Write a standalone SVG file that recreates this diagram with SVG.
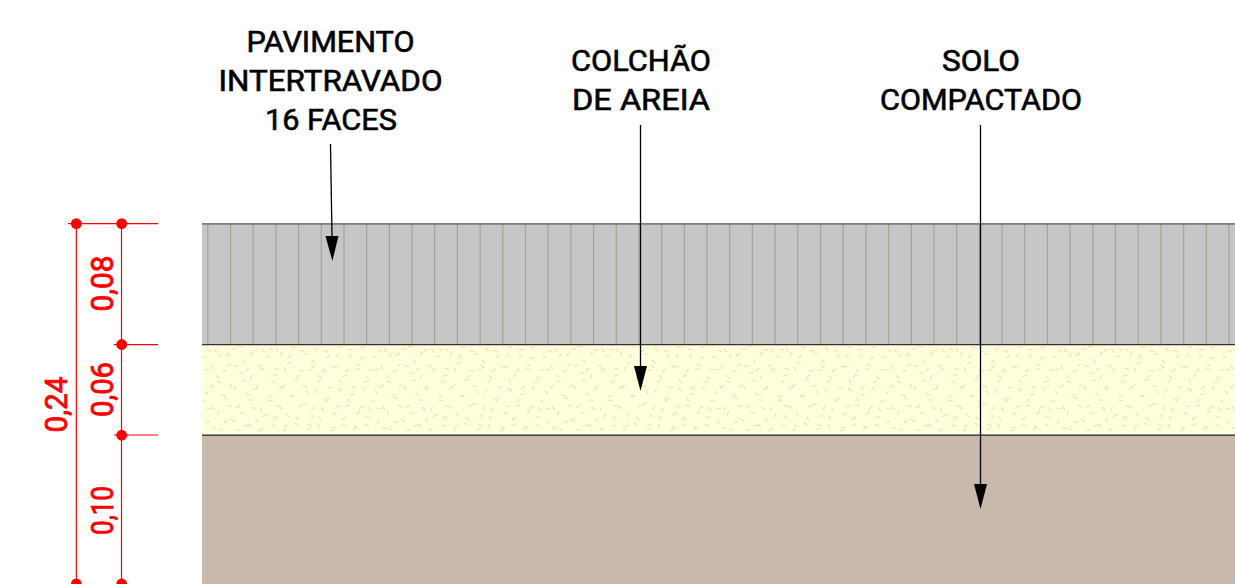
<svg xmlns="http://www.w3.org/2000/svg" width="1235" height="584" viewBox="0 0 1235 584">
<style>
.lbl{font-family:"Roboto","Liberation Sans",sans-serif;font-size:29px;font-weight:400;fill:#000;stroke:#000;stroke-width:.6}
.dim{font-family:"Roboto","Liberation Sans",sans-serif;font-size:32px;font-weight:400;fill:#f00;stroke:#f00;stroke-width:.8}
.rd{stroke:#f00;stroke-width:1.2;fill:none}
.dot{fill:#f00}
.ar{stroke:#000;stroke-width:1.3;fill:none;marker-end:url(#head)}
.edge{stroke-width:1.2;fill:none}
.joint{stroke:#a3a597;stroke-width:1.2;fill:none}
</style>
<defs>
<marker id="head" markerUnits="userSpaceOnUse" markerWidth="26" markerHeight="14" refX="1" refY="7" orient="auto" viewBox="0 0 26 14">
<path d="M0 .5L25 7L0 13.5Z" fill="#000"/>
</marker>
<pattern id="sand" patternUnits="userSpaceOnUse" x="202" y="345" width="170" height="90">
<path fill="none" stroke="#e4e4b0" stroke-width="1.1" d="M6 5l4 2M17 12l3-4M29 4l5 0M41 14l2 4M52 6l4-2M63 11l5 1M74 3l2 4M86 13l4-3M98 6l5 0M110 15l3 3M122 5l4 2M134 12l3-4M146 4l5 1M158 14l4-2M3 24l5 1M14 30l3 3M25 21l4-2M37 28l5 0M48 34l2-4M59 23l4 3M71 31l5-1M82 22l2 4M94 33l4-3M105 25l5 0M117 30l3 4M129 21l4 2M141 32l4-3M153 24l5 0M165 31l2 4M8 43l4-3M19 50l5 0M31 41l3 3M43 48l4 2M54 40l2 4M66 52l5-1M77 44l4-3M89 50l4 2M100 41l5 0M112 48l3-4M124 53l4 1M136 43l4 3M148 50l5-1M160 42l3 4M4 63l5 1M15 70l2-4M26 60l4 2M38 68l5 0M50 62l3 3M61 72l4-3M72 61l5 0M84 68l3 4M96 62l4-2M107 71l5 0M119 63l3 3M131 70l4-3M143 60l5 1M155 69l3-3M166 62l3 4M10 82l4 2M22 78l4-2M34 85l5 0M46 79l3 3M57 86l4-3M69 80l5 1M81 86l3-3M92 78l4 2M104 84l5 0M116 79l2 4M128 86l4-2M139 80l5 0M151 85l3-3M163 79l4 2"/>
</pattern>
<pattern id="sand2" href="#sand" x="265" y="376"/>
</defs>
<g id="layers">
<g id="pavimento">
<rect x="202" y="224" width="1033" height="121" fill="#c6c6c6"/>
<path class="joint" d="M207.8 224V345M230.5 224V345M253.2 224V345M275.9 224V345M298.6 224V345M321.3 224V345M344 224V345M366.7 224V345M389.4 224V345M412 224V345M434.7 224V345M457.4 224V345M480.1 224V345M502.8 224V345M525.5 224V345M548.2 224V345M570.9 224V345M593.6 224V345M616.3 224V345M639 224V345M661.7 224V345M684.4 224V345M707 224V345M729.7 224V345M752.4 224V345M775.1 224V345M797.8 224V345M820.5 224V345M843.2 224V345M865.9 224V345M888.6 224V345M911.3 224V345M934 224V345M956.7 224V345M979.4 224V345M1002 224V345M1024.7 224V345M1047.4 224V345M1070.1 224V345M1092.8 224V345M1115.5 224V345M1138.2 224V345M1160.9 224V345M1183.6 224V345M1206.3 224V345M1229 224V345"/>
</g>
<g id="areia"><rect x="202" y="345" width="1033" height="90" fill="#ffffdd"/><rect x="202" y="345" width="1033" height="90" fill="url(#sand)"/><rect x="202" y="345" width="1033" height="90" fill="url(#sand2)"/></g>
<g id="solo"><rect x="202" y="435" width="1033" height="149" fill="#c9b8ae"/></g>
<path class="edge" stroke="#555" d="M202 223.8H1235"/>
<path class="edge" stroke="#333" d="M202 344.6H1235"/>
<path class="edge" stroke="#222" d="M202 435.2H1235"/>
</g>
<g id="connectors">
<path class="ar" d="M330.5 144L332 237"/>
<path class="ar" d="M640.5 125V367"/>
<path class="ar" d="M980.5 125V485"/>
</g>
<g id="label-pavimento">
<text class="lbl" x="330.5" y="52" text-anchor="middle" textLength="168" lengthAdjust="spacingAndGlyphs">PAVIMENTO</text>
<text class="lbl" x="330.5" y="91" text-anchor="middle" textLength="224" lengthAdjust="spacingAndGlyphs">INTERTRAVADO</text>
<text class="lbl" x="331" y="130" text-anchor="middle" textLength="132" lengthAdjust="spacingAndGlyphs">16 FACES</text>
</g>
<g id="label-areia">
<text class="lbl" x="641" y="71" text-anchor="middle" textLength="140" lengthAdjust="spacingAndGlyphs">COLCHÃO</text>
<text class="lbl" x="641" y="110" text-anchor="middle" textLength="138" lengthAdjust="spacingAndGlyphs">DE AREIA</text>
</g>
<g id="label-solo">
<text class="lbl" x="981" y="71" text-anchor="middle" textLength="78" lengthAdjust="spacingAndGlyphs">SOLO</text>
<text class="lbl" x="981" y="110" text-anchor="middle" textLength="202" lengthAdjust="spacingAndGlyphs">COMPACTADO</text>
</g>
<g id="dimensions">
<path class="rd" d="M68 223.6H158M114 344.6H158M114 435H158M76.3 223.6V584M121.5 223.6V584"/>
<circle class="dot" cx="76.3" cy="223.6" r="5.4"/><circle class="dot" cx="121.7" cy="223.6" r="5.4"/>
<circle class="dot" cx="121.7" cy="344.5" r="5.4"/><circle class="dot" cx="121.7" cy="435.2" r="5.4"/>
<circle class="dot" cx="76.3" cy="584" r="5.4"/><circle class="dot" cx="121.7" cy="584" r="5.4"/>
<text class="dim" transform="translate(112.5 283.5) rotate(-90)" text-anchor="middle" textLength="56" lengthAdjust="spacingAndGlyphs">0,08</text>
<text class="dim" transform="translate(112.5 389.5) rotate(-90)" text-anchor="middle" textLength="55" lengthAdjust="spacingAndGlyphs">0,06</text>
<text class="dim" transform="translate(67 404.5) rotate(-90)" text-anchor="middle" textLength="56" lengthAdjust="spacingAndGlyphs">0,24</text>
<text class="dim" transform="translate(112.5 510.5) rotate(-90)" text-anchor="middle" textLength="49" lengthAdjust="spacingAndGlyphs">0,10</text>
</g>
</svg>
